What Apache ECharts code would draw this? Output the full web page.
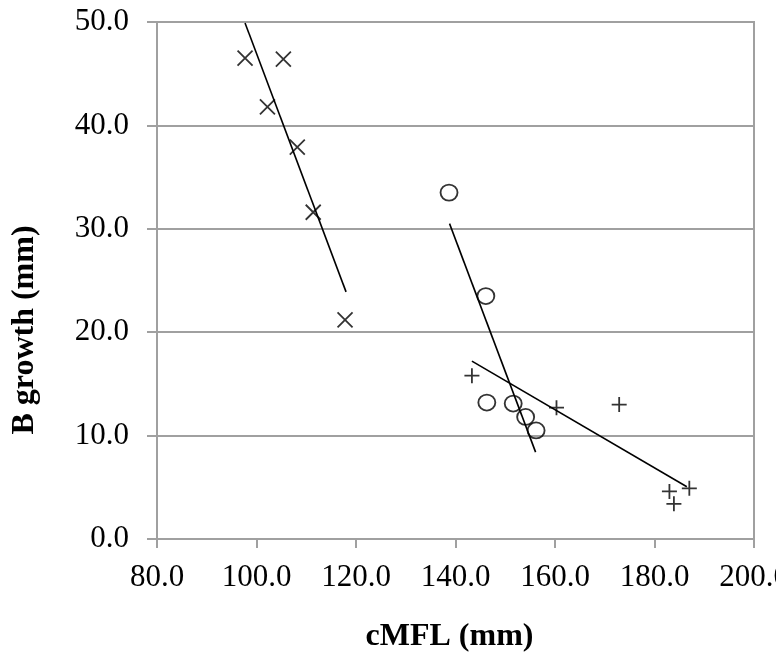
<!DOCTYPE html>
<html>
<head>
<meta charset="utf-8">
<script src="https://cdn.jsdelivr.net/npm/echarts@6/dist/echarts.min.js"></script>
<style>
html,body{margin:0;padding:0;background:#fff;}
#c{width:776px;height:662px;}
</style>
</head>
<body>
<div id="c"></div>
<script>
// Data
var xTicks = [80, 100, 120, 140, 160, 180, 200];
var yTicks = [0, 10, 20, 30, 40, 50];

var crossX = [97.7, 105.4, 102.2, 108.2, 111.4, 117.8];
var crossY = [46.5, 46.4, 41.8, 37.9, 31.6, 21.2];
var crossLineX = [97.7, 118.0];
var crossLineY = [49.9, 23.9];

var circleX = [138.7, 146.1, 146.3, 151.6, 154.1, 156.2];
var circleY = [33.5, 23.5, 13.2, 13.1, 11.8, 10.5];
var circleLineX = [138.8, 156.1];
var circleLineY = [30.5, 8.4];

var plusX = [143.3, 160.3, 172.9, 183.0, 187.0, 183.9];
var plusY = [15.8, 12.7, 13.0, 4.6, 4.9, 3.4];
var plusLineX = [143.3, 186.5];
var plusLineY = [17.2, 5.05];

function pairs(xs, ys) {
  return xs.map(function (x, i) { return [x, ys[i]]; });
}

var serif = '"Liberation Serif", "DejaVu Serif", serif';
var gray = '#a0a0a0';

var chart = echarts.init(document.getElementById('c'), null, {renderer: 'canvas'});

var markerStyle = {color: 'none', borderColor: '#000', borderWidth: 1.8};
var lineStyle = {color: '#000', width: 1.6};

chart.setOption({
  animation: false,
  backgroundColor: '#fff',
  grid: {
    left: 157, right: 22, top: 22, bottom: 123,
    containLabel: false,
    outerBoundsMode: 'none',
    show: true,
    borderColor: gray,
    borderWidth: 2,
    backgroundColor: 'transparent'
  },
  xAxis: {
    type: 'value',
    min: xTicks[0], max: xTicks[xTicks.length - 1], interval: 20,
    name: 'cMFL (mm)',
    nameLocation: 'middle',
    nameGap: 82,
    nameTextStyle: {fontFamily: serif, fontWeight: 'bold', fontSize: 32, color: '#000', padding: [0, 12, 0, 0]},
    axisLine: {show: true, lineStyle: {color: gray, width: 2}},
    axisTick: {show: true, length: 9, lineStyle: {color: gray, width: 2}},
    splitLine: {show: false},
    axisLabel: {
      fontFamily: serif, fontSize: 31, color: '#000', margin: 23,
      formatter: function (v) { return v.toFixed(1); }
    }
  },
  yAxis: {
    type: 'value',
    min: yTicks[0], max: yTicks[yTicks.length - 1], interval: 10,
    axisLine: {show: true, lineStyle: {color: gray, width: 2}},
    axisTick: {show: true, length: 10, lineStyle: {color: gray, width: 2}},
    splitLine: {show: true, lineStyle: {color: gray, width: 2}},
    axisLabel: {
      fontFamily: serif, fontSize: 31, color: '#000', margin: 28,
      formatter: function (v) { return v.toFixed(1); }
    }
  },
  graphic: [{
    type: 'text',
    x: 25, y: 330,
    rotation: Math.PI / 2,
    style: {
      text: 'B growth (mm)',
      font: 'bold 32px ' + serif,
      fill: '#000',
      align: 'center',
      verticalAlign: 'middle'
    }
  }],
  series: [
    {
      type: 'scatter', data: pairs(crossX, crossY),
      symbol: 'path://M0,0L10,10M10,0L0,10', symbolSize: 15,
      itemStyle: markerStyle
    },
    {
      type: 'line', data: pairs(crossLineX, crossLineY),
      symbol: 'none', lineStyle: lineStyle
    },
    {
      type: 'scatter', data: pairs(circleX, circleY),
      symbol: 'circle', symbolSize: [17, 16],
      itemStyle: markerStyle
    },
    {
      type: 'line', data: pairs(circleLineX, circleLineY),
      symbol: 'none', lineStyle: lineStyle
    },
    {
      type: 'scatter', data: pairs(plusX, plusY),
      symbol: 'path://M5,0L5,10M0,5L10,5', symbolSize: 15,
      itemStyle: markerStyle
    },
    {
      type: 'line', data: pairs(plusLineX, plusLineY),
      symbol: 'none', lineStyle: lineStyle
    }
  ]
});
</script>
</body>
</html>
